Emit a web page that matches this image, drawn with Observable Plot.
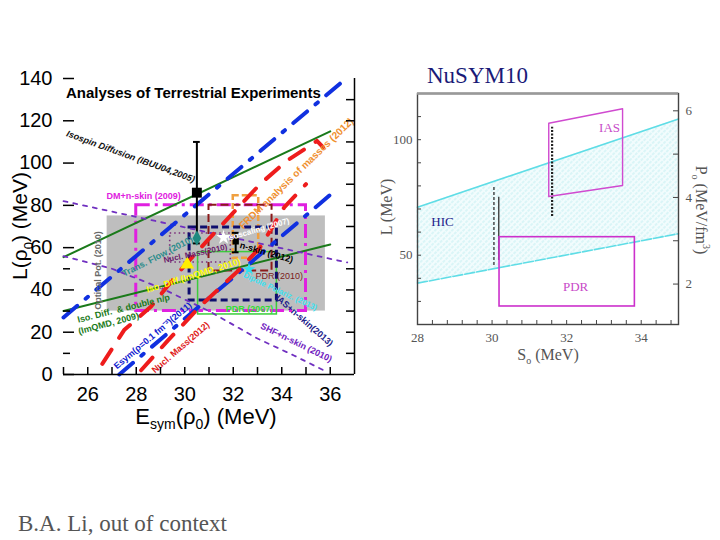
<!DOCTYPE html>
<html><head><meta charset="utf-8">
<script src="https://cdn.jsdelivr.net/npm/d3@7"></script>
<script src="https://cdn.jsdelivr.net/npm/@observablehq/plot@0.6"></script>
<style>
html,body{margin:0;padding:0;background:#fff;}
body{width:720px;height:540px;position:relative;overflow:hidden;}
.abs{position:absolute;white-space:nowrap;line-height:1;}
.rot{transform:translate(-50%,-50%) rotate(-90deg);}
.rot90{transform:translate(-50%,-50%) rotate(90deg);}
.ctr{transform:translate(-50%,-50%);}
</style></head><body>
<div id="left" class="abs" style="left:0;top:0"></div>
<div id="right" class="abs" style="left:370px;top:0"></div>

<div class="abs" style="left:66px;top:84px;font:bold 15px 'Liberation Sans',Arial,sans-serif;color:#000">Analyses of Terrestrial Experiments</div>
<div class="abs rot" style="left:22px;top:226px;font:21px 'Liberation Sans',Arial,sans-serif;color:#000">L(ρ<sub style="font-size:13px">0</sub>) (MeV)</div>
<div class="abs ctr" style="left:206px;top:418px;font:22px 'Liberation Sans',Arial,sans-serif;color:#000">E<sub style="font-size:14px">sym</sub>(ρ<sub style="font-size:14px">0</sub>) (MeV)</div>

<div class="abs" style="left:427px;top:63px;font:23px 'Liberation Serif',serif;color:#1a1a78">NuSYM10</div>
<div class="abs rot" style="left:387px;top:207px;font:16px 'Liberation Serif',serif;color:#555">L (MeV)</div>
<div class="abs ctr" style="left:548px;top:356px;font:16px 'Liberation Serif',serif;color:#555">S<sub style="font-size:10px">o</sub> (MeV)</div>
<div class="abs rot90" style="left:701px;top:210px;font:16px 'Liberation Serif',serif;color:#555">P<sub style="font-size:10px">o</sub> (MeV/fm<sup style="font-size:10px">3</sup>)</div>

<div class="abs" style="left:18px;top:511px;font:23px 'Liberation Serif',serif;color:#555">B.A. Li, out of context</div>

<script>
// ================= LEFT PANEL DATA (Esym(rho0) in MeV vs L(rho0) in MeV) =================
const leftXTickValues = [26, 28, 30, 32, 34, 36];
const leftXMinorTicks = [25, 26, 27, 28, 29, 30, 31, 32, 33, 34, 35, 36];
const leftYTickValues = [0, 20, 40, 60, 80, 100, 120, 140];
const leftYMinorTicks = [10, 30, 50];
const leftRightTicks = [10, 20, 30, 40, 50, 60, 70, 80, 90, 100, 110, 120, 130];

// rectangular constraints
const boxNames  = ["Optical Pot. (2010)", "DM+n-skin (2009)", "PDR (2007)", "Nucl. Mass (2010)", "Navy box", "PDR (2010)", "FRDM (2012)"];
const boxEsymLo = [26.8, 28.0, 30.55, 29.4, 30.2, 31.0, 32.0];
const boxEsymHi = [35.8, 35.0, 33.8, 31.9, 33.8, 33.6, 33.05];
const boxLLo    = [30, 30, 28.4, 53, 35, 49, 55];
const boxLHi    = [75, 80, 57.9, 66.7, 69.5, 80, 84.5];

// line constraints
const isoDiffIBUU_Esym = [25, 36];
const isoDiffIBUU_L    = [55.5, 115];
const isoDiffImQMD_Esym = [25, 36];
const isoDiffImQMD_L    = [30, 61.5];
const esymLowDensA_Esym = [25, 36.6];
const esymLowDensA_L    = [27, 139.5];
const esymLowDensB_Esym = [27.3, 36.0];
const esymLowDensB_L    = [0, 85];
const nuclMassA_Esym = [26.6, 27.5, 28.6, 29.8, 30.9, 33.1, 34.2, 35.2, 35.45, 35.7];
const nuclMassA_L    = [5, 21, 32, 49, 63, 90, 101, 108.5, 110.5, 107.5];
const nuclMassB_Esym = [28.2, 29.3, 30.7, 32.2, 33.1, 34.1, 35.0];
const nuclMassB_L    = [2, 16, 33, 49, 60, 79, 90];
const shfA_Esym = [25, 36.7];
const shfA_L    = [82, 53];
const shfB_Esym = [25, 27, 29, 31, 33, 34.5, 35.9];
const shfB_L    = [56, 50, 41, 30, 17, 9, 1];

// point constraints
const ptNames = ["Isospin Diffusion", "Trans. Flow", "n-skin (2012)", "Isoscaling", "Iso. Diff. (ImQMD, 2010)", "cyan (2013)"];
const ptEsym  = [30.5, 30.5, 32.1, 31.6, 30.1, 32.65];
const ptL     = [86, 64.5, 63, 64.8, 52, 49.8];
const errEsym = [30.5, 32.1];
const errLo   = [62, 57.8];
const errHi   = [110, 67];

// annotation texts and anchors
const annText = ["Isospin Diffusion (IBUU04,2005)", "DM+n-skin (2009)", "FRDM analysis of masses (2012)", "Optical Pot. (2010)",
  "Trans. Flow (2010)", "Nucl. Mass(2010)", "Iso. Diff.(ImQMD, 2010)", "Isoscaling (2007)", "n-skin (2012)", "PDR (2010)",
  "PDR (2007)", "Iso. Diff.  & double n/p", "(ImQMD, 2009)", "Esym(ρ=0.1 fm⁻³)(2011)", "Nucl. Mass(2012)",
  "SHF+n-skin (2010)", "IAS+n-skin(2013)", "Dipole Polariz. (2013)"];
const annEsym = [27.77, 28.3, 34.6, 26.41, 28.88, 30.44, 30.36, 33.03, 33.37, 33.9, 32.67, 27.48, 26.86, 28.68, 29.83, 34.6, 34.93, 33.94];
const annL    = [103.1, 84.2, 95.1, 49.2, 55.8, 57.2, 46.8, 68.6, 57.7, 46.4, 30.7, 31.2, 24.1, 18.4, 12.8, 15.1, 25.5, 39.3];

// ================= RIGHT PANEL DATA (S0 vs L, P0 right axis) =================
const rightXTickValues = [28, 30, 32, 34];
const rightXMinorTicks = [28, 28.4, 28.8, 29.2, 29.6, 30, 30.4, 30.8, 31.2, 31.6, 32, 32.4, 32.8, 33.2, 33.6, 34, 34.4, 34.8];
const rightYTickValues = [50, 100];
const rightYMinorTicks = [30, 40, 50, 60, 70, 80, 90, 100, 110];
const p0TickValues = [2, 4, 6];
const p0MinorTicks = [2, 3, 4, 5, 6];
const rho0 = 0.16; // fm^-3, L = 3 P0 / rho0
const hicS0 = [28, 35];
const hicLLow = [37.9, 59.3];
const hicLHigh = [70.8, 109];
const iasS0 = [31.52, 33.5, 33.5, 31.52, 31.52];
const iasL  = [107.1, 113.4, 80.2, 75.4, 107.1];
const pdrS0 = [30.2, 33.83];
const pdrL  = [27.8, 57.8];
const vS0  = [30.05, 30.18, 31.61];
const vLLo = [45.5, 47.7, 66.8];
const vLHi = [79.4, 75.1, 105.4];
const rightLabels = ["IAS", "PDR", "HIC"];
const rightLabelS0 = [33.15, 32.24, 28.67];
const rightLabelL = [105.3, 36.5, 64.6];

// ================= LEFT PLOT =================
const LW = 370, LH = 440, LML = 63, LMR = 16, LMT = 78, LMB = 66;
const lpw = LW - LML - LMR, lph = LH - LMT - LMB;
const pts = (xs, ys) => xs.map((x, i) => ({x, y: ys[i]}));
const boxes = boxNames.map((n, i) => ({n, x1: boxEsymLo[i], x2: boxEsymHi[i], y1: boxLLo[i], y2: boxLHi[i]}));
const boxStyle = [
  {fill: "#bebebe"},
  {fill: "none", stroke: "#e020e0", strokeWidth: 3, strokeDasharray: "14,5,3,5"},
  {fill: "none", stroke: "#3ccc3c", strokeWidth: 1.5},
  {fill: "none", stroke: "#7a2a7a", strokeWidth: 1.6, strokeDasharray: "1.5,3"},
  {fill: "none", stroke: "#0e0e6e", strokeWidth: 3, strokeDasharray: "7,4"},
  {fill: "none", stroke: "#8b1a1a", strokeWidth: 2, strokeDasharray: "8,4"},
  {fill: "none", stroke: "#f0a040", strokeWidth: 2.5, strokeDasharray: "6,3"}
];
const drawOrder = [0, 3, 1, 2, 5, 6, 4];
const annStyle = [
  {c: "#111", a: 20, w: "bold", s: 9, i: "italic"},
  {c: "#e020e0", a: 0, w: "bold", s: 9},
  {c: "#f09030", a: -44, w: "bold", s: 10},
  {c: "#6a6a6a", a: -90, w: "bold", s: 9},
  {c: "#2b8c8c", a: -27, w: "bold", s: 9},
  {c: "#6a1a6a", a: -12, w: "bold", s: 8},
  {c: "#ffff00", a: -17, w: "bold", s: 9},
  {c: "#ffffff", a: -16, w: "bold", s: 8},
  {c: "#000000", a: 16, w: "bold", s: 9},
  {c: "#7a1a1a", a: 0, w: "normal", s: 9},
  {c: "#33dd33", a: 0, w: "bold", s: 9},
  {c: "#1a7a1a", a: -14, w: "bold", s: 9},
  {c: "#1a7a1a", a: -15, w: "bold", s: 9},
  {c: "#1020d0", a: -40, w: "bold", s: 9},
  {c: "#e02020", a: -41, w: "bold", s: 9},
  {c: "#7020c0", a: 26, w: "bold", s: 9},
  {c: "#20208a", a: 41, w: "bold", s: 9},
  {c: "#40e0f0", a: 25, w: "bold", s: 8}
];
const errData = errEsym.map((x, i) => ({x, lo: errLo[i], hi: errHi[i]}));
const ptData = ptNames.map((n, i) => ({n, x: ptEsym[i], y: ptL[i]}));
const ptStyle = [
  {symbol: "square", fill: "#000", r: 5.6},
  {symbol: "diamond", fill: "#1f8a80", r: 4.6},
  {symbol: "square", fill: "#000", r: 3.6},
  {symbol: "star", fill: "#ffffff", r: 4.6},
  {symbol: "triangle", fill: "#ffee00", r: 5.2},
  {symbol: "star", fill: "#30e0f0", r: 4}
];

const leftMarks = [];
for (const i of drawOrder) {
  leftMarks.push(Plot.rect([boxes[i]], {x1: "x1", x2: "x2", y1: "y1", y2: "y2", ...boxStyle[i]}));
}
const lineSpec = [
  [isoDiffIBUU_Esym, isoDiffIBUU_L, {stroke: "#1a7a1a", strokeWidth: 2}],
  [isoDiffImQMD_Esym, isoDiffImQMD_L, {stroke: "#1a7a1a", strokeWidth: 2}],
  [shfA_Esym, shfA_L, {stroke: "#7030c0", strokeWidth: 1.8, strokeDasharray: "4,6"}],
  [shfB_Esym, shfB_L, {stroke: "#7030c0", strokeWidth: 1.8, strokeDasharray: "4,6"}],
  [esymLowDensA_Esym, esymLowDensA_L, {stroke: "#1030e0", strokeWidth: 4, strokeDasharray: "18,11,3,11"}],
  [esymLowDensB_Esym, esymLowDensB_L, {stroke: "#1030e0", strokeWidth: 4, strokeDasharray: "18,11,3,11"}],
  [nuclMassA_Esym, nuclMassA_L, {stroke: "#ee1c1c", strokeWidth: 4, strokeDasharray: "17,14"}],
  [nuclMassB_Esym, nuclMassB_L, {stroke: "#ee1c1c", strokeWidth: 4, strokeDasharray: "17,14"}]
];
for (const [xs, ys, st] of lineSpec) {
  leftMarks.push(Plot.line(pts(xs, ys), {x: "x", y: "y", curve: "linear", ...st}));
}
leftMarks.push(
  Plot.ruleX(errData, {x: "x", y1: "lo", y2: "hi", stroke: "#000", strokeWidth: 2}),
  Plot.ruleY(errData, {y: "hi", x1: d => d.x - 0.14, x2: d => d.x + 0.14, stroke: "#000", strokeWidth: 2}),
  Plot.ruleY(errData, {y: "lo", x1: d => d.x - 0.14, x2: d => d.x + 0.14, stroke: "#000", strokeWidth: 2})
);
ptData.forEach((d, i) => {
  leftMarks.push(Plot.dot([d], {x: "x", y: "y", stroke: null, ...ptStyle[i]}));
});
annText.forEach((t, i) => {
  const s = annStyle[i];
  leftMarks.push(Plot.text([t], {x: () => annEsym[i], y: () => annL[i], text: d => d, rotate: s.a, fill: s.c,
    fontSize: s.s, fontWeight: s.w, fontStyle: s.i || "normal"}));
});
leftMarks.push(
  Plot.ruleY([0], {stroke: "#000", strokeWidth: 1.5}),
  Plot.ruleX([37], {stroke: "#000", strokeWidth: 1.5}),
  Plot.tickY(leftYTickValues, {y: d => d, insetRight: lpw - 11, stroke: "#000", strokeWidth: 1.5}),
  Plot.tickY(leftYMinorTicks, {y: d => d, insetRight: lpw - 7, stroke: "#000", strokeWidth: 1.5}),
  Plot.tickY(leftRightTicks, {y: d => d, insetLeft: lpw - 8, stroke: "#000", strokeWidth: 1.5}),
  Plot.tickX(leftXMinorTicks, {x: d => d, insetTop: lph - 7, stroke: "#000", strokeWidth: 1.5}),
  Plot.axisX(leftXTickValues, {tickSize: 0, tickPadding: 12, fontSize: 20, label: null, color: "#000"}),
  Plot.axisY(leftYTickValues, {tickSize: 0, tickPadding: 11, fontSize: 20, label: null, color: "#000"})
);

const leftPlot = Plot.plot({
  width: LW, height: LH,
  marginLeft: LML, marginRight: LMR, marginTop: LMT, marginBottom: LMB,
  x: {domain: [25, 37]},
  y: {domain: [0, 140]},
  style: {fontFamily: "'Liberation Sans', Arial, sans-serif", background: "transparent", overflow: "visible"},
  marks: leftMarks
});
document.getElementById("left").appendChild(leftPlot);

// ================= RIGHT PLOT =================
const RW = 350, RH = 400, RML = 47, RMR = 42, RMT = 93, RMB = 76;
const rpw = RW - RML - RMR, rph = RH - RMT - RMB;
const hicData = hicS0.map((s, i) => ({s, lo: hicLLow[i], hi: hicLHigh[i]}));
const pToL = p => 3 * p / rho0;

const rightPlot = Plot.plot({
  width: RW, height: RH,
  marginLeft: RML, marginRight: RMR, marginTop: RMT, marginBottom: RMB,
  x: {domain: [28, 35]},
  y: {domain: [20, 120]},
  style: {fontFamily: "'Liberation Serif', 'Times New Roman', serif", background: "transparent", overflow: "visible"},
  marks: [
    Plot.areaY(hicData, {x: "s", y1: "lo", y2: "hi", fill: "url(#hicHatch)"}),
    Plot.line(hicData, {x: "s", y: "hi", stroke: "#5fdde6", strokeWidth: 1.6}),
    Plot.line(hicData, {x: "s", y: "lo", stroke: "#5fdde6", strokeWidth: 1.6, strokeDasharray: "10,2"}),
    Plot.ruleX([hicData[0]], {x: "s", y1: "lo", y2: "hi", stroke: "#5fdde6", strokeWidth: 1.3, strokeDasharray: "3,2"}),
    Plot.ruleX(vS0.slice(0, 1), {x: d => d, y1: () => vLLo[0], y2: () => vLHi[0], stroke: "#222", strokeWidth: 1.2, strokeDasharray: "3,2"}),
    Plot.ruleX(vS0.slice(1, 2), {x: d => d, y1: () => vLLo[1], y2: () => vLHi[1], stroke: "#222", strokeWidth: 1.2}),
    Plot.ruleX(vS0.slice(2, 3), {x: d => d, y1: () => vLLo[2], y2: () => vLHi[2], stroke: "#222", strokeWidth: 2.2, strokeDasharray: "2,1.5"}),
    Plot.line(pts(iasS0, iasL), {x: "x", y: "y", stroke: "#d04ad0", strokeWidth: 1.4}),
    Plot.rect([{x1: pdrS0[0], x2: pdrS0[1], y1: pdrL[0], y2: pdrL[1]}], {x1: "x1", x2: "x2", y1: "y1", y2: "y2", fill: "none", stroke: "#cc30cc", strokeWidth: 1.6}),
    Plot.text(rightLabels, {x: (d, i) => rightLabelS0[i], y: (d, i) => rightLabelL[i], text: d => d,
      fill: (d, i) => ["#c84ac8", "#c84ac8", "#22228a"][i], fontSize: 13}),
    Plot.frame({stroke: "#444", strokeWidth: 1.4}),
    Plot.ruleY([120], {stroke: "#999", strokeWidth: 2.5}),
    Plot.tickX(rightXMinorTicks, {x: d => d, insetTop: rph - 4, stroke: "#444"}),
    Plot.tickY(rightYMinorTicks, {y: d => d, insetRight: rpw - 4, stroke: "#444"}),
    Plot.tickY(p0MinorTicks.map(pToL), {y: d => d, insetLeft: rpw - 5, stroke: "#444"}),
    Plot.axisX(rightXTickValues, {tickSize: 0, tickPadding: 8, fontSize: 13, label: null, color: "#555"}),
    Plot.axisY(rightYTickValues, {tickSize: 0, tickPadding: 5, fontSize: 13, label: null, color: "#555"}),
    Plot.axisY(p0TickValues.map(pToL), {anchor: "right", tickSize: 0, tickPadding: 7, fontSize: 13, label: null, color: "#555",
      tickFormat: d => String(Math.round(d * rho0 / 3))})
  ]
});
const defs = d3.select(rightPlot).insert("defs", ":first-child");
const pat = defs.append("pattern").attr("id", "hicHatch").attr("patternUnits", "userSpaceOnUse")
  .attr("width", 4).attr("height", 4).attr("patternTransform", "rotate(45)");
pat.append("rect").attr("width", 4).attr("height", 4).attr("fill", "#f2fcfd");
pat.append("line").attr("x1", 1).attr("y1", 0).attr("x2", 1).attr("y2", 4).attr("stroke", "#c2eef2").attr("stroke-width", 1)
  .attr("stroke-dasharray", "2,1");
document.getElementById("right").appendChild(rightPlot);
</script>
</body></html>
